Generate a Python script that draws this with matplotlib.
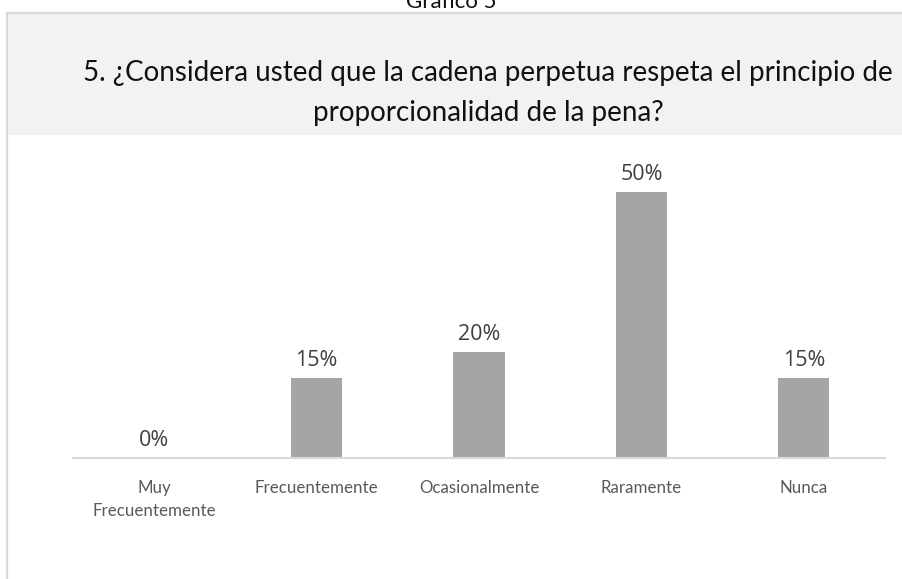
import matplotlib; matplotlib.use('Agg')
import matplotlib.pyplot as plt
from matplotlib.patches import Rectangle
from matplotlib.lines import Line2D

categorias = ['Muy\nFrecuentemente', 'Frecuentemente', 'Ocasionalmente', 'Raramente', 'Nunca']
valores = [0.00, 0.15, 0.20, 0.50, 0.15]
etiquetas = ['0%', '15%', '20%', '50%', '15%']
titulo = '5. ¿Considera usted que la cadena perpetua respeta el principio de\nproporcionalidad de la pena?'

W, H = 902, 579
PX = 532.0  # pixels por unidad (100%)
BASE = 458
TOP = 150

f = plt.figure(figsize=(W/100, H/100), dpi=100)
f.patch.set_facecolor('white')

# marco / banda de título
f.add_artist(Rectangle((7/W, 1-135/H), (W-7)/W, 122/H, transform=f.transFigure,
                       fc='#f2f2f2', ec='none'))
f.add_artist(Line2D([7/W, 1], [1-13/H, 1-13/H], transform=f.transFigure, color='#d9d9d9', lw=1.6))
f.add_artist(Line2D([7/W, 7/W], [0, 1-13/H], transform=f.transFigure, color='#d9d9d9', lw=1.6))

f.text(451/W, 1-2/H, 'Gráfico 5', ha='center', va='center', fontsize=16, family='Lato', color='#111')
f.text(488/W, 1-93/H, titulo, ha='center', va='center', fontsize=20, family='Lato',
       color='#111', linespacing=1.7)

a = f.add_axes([73/W, (H-BASE)/H, 812/W, (BASE-TOP)/H])
x = range(len(categorias))
a.bar(x, valores, width=0.315, color='#a5a5a5')
a.set_xlim(-0.5, len(categorias)-0.5)
a.set_ylim(0, (BASE-TOP)/PX)
for s in ['top', 'right', 'left']:
    a.spines[s].set_visible(False)
a.spines['bottom'].set_color('#d9d9d9'); a.spines['bottom'].set_linewidth(1.5)
a.set_yticks([])
a.set_xticks(list(x))
a.set_xticklabels(categorias, family='Lato', fontsize=12.2, color='#595959', linespacing=1.5)
a.tick_params(axis='x', length=0, pad=16)
for i, (v, t) in enumerate(zip(valores, etiquetas)):
    a.annotate(t, (i, v), xytext=(0, 5), textcoords='offset points', ha='center', va='bottom',
               fontsize=15.5, family='Open Sans', color='#404040')
a.patch.set_alpha(0)

plt.savefig('out.png', dpi=100, facecolor='white')
